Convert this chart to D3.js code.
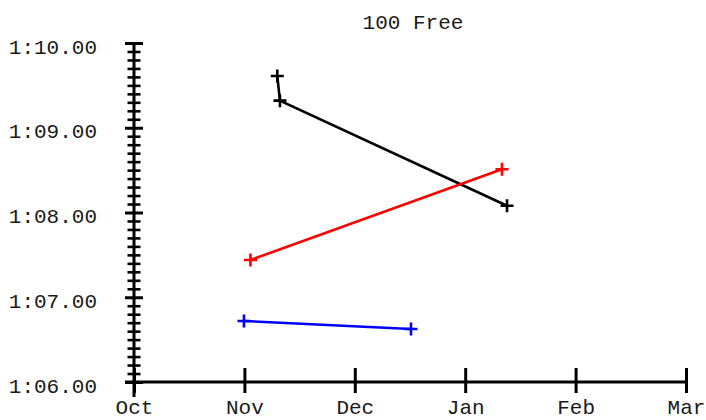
<!DOCTYPE html>
<html>
<head>
<meta charset="utf-8">
<script src="https://cdn.jsdelivr.net/npm/d3@7"></script>
<style>
html,body{margin:0;padding:0;background:#fff;}
svg{display:block;}
text{font-family:"Liberation Mono","Courier New",monospace;}
</style>
</head>
<body>
<svg id="chart" width="706" height="420"></svg>
<script>
// ---- data ----
const title = "100 Free";
const monthLabels = ["Oct", "Nov", "Dec", "Jan", "Feb", "Mar"];
const yTickValues = [66, 67, 68, 69, 70]; // seconds
// x values: months since Oct 1 (fractional), y values: seconds
const blackX = [1.298, 1.322, 3.379];
const blackY = [69.61, 69.32, 68.08];
const redX = [1.055, 3.333];
const redY = [67.44, 68.51];
const blueX = [0.996, 2.509];
const blueY = [66.72, 66.625];
const seriesColors = ["#000000", "#ff0000", "#0000ff"];

const series = [
  {x: blackX, y: blackY, color: seriesColors[0]},
  {x: redX, y: redY, color: seriesColors[1]},
  {x: blueX, y: blueY, color: seriesColors[2]}
];

// ---- layout ----
const svg = d3.select("#chart");
const mLeft = 134, mRight = 686, mTop = 43, mBottom = 382;
const x = d3.scaleLinear().domain([0, 5]).range([mLeft, mRight]);
const y = d3.scaleLinear().domain([66, 70]).range([mBottom, mTop]);

function fmtTime(v) {
  const m = Math.floor(v / 60);
  const s = v - m * 60;
  return m + ":" + (s < 10 ? "0" : "") + s.toFixed(2);
}

const fontSize = 21;
const textFill = "#1a1a1a";

// title
svg.append("text")
  .attr("x", (mLeft + mRight) / 2 + 3)
  .attr("y", 29)
  .attr("text-anchor", "middle")
  .attr("font-size", fontSize)
  .attr("fill", textFill)
  .text(title);

// y minor ticks
const minorVals = d3.range(660, 701).map(d => d / 10).filter(d => Math.abs(d - Math.round(d)) > 1e-6);
const yMinor = d3.axisLeft(y).tickValues(minorVals).tickSize(0).tickFormat("");
const gMinor = svg.append("g").attr("transform", `translate(${mLeft},0)`).call(yMinor);
gMinor.select(".domain").remove();
gMinor.selectAll(".tick line").attr("x1", -6.5).attr("x2", 6.5)
  .attr("stroke", "#000").attr("stroke-width", 2.6);

// y major axis
const yAxis = d3.axisLeft(y).tickValues(yTickValues).tickFormat(fmtTime).tickSize(0).tickPadding(36);
const gy = svg.append("g").attr("transform", `translate(${mLeft},0)`).call(yAxis);
gy.select(".domain").remove();
gy.selectAll(".tick line").attr("x1", -9).attr("x2", 9)
  .attr("stroke", "#000").attr("stroke-width", 3);
gy.selectAll(".tick text")
  .attr("font-size", fontSize)
  .attr("font-family", "Liberation Mono, Courier New, monospace")
  .attr("fill", textFill)
  .attr("dy", 10)
  .attr("x", -37);

// x axis
const xAxis = d3.axisBottom(x).tickValues(d3.range(monthLabels.length))
  .tickFormat(i => monthLabels[i]).tickSize(0).tickPadding(0);
const gx = svg.append("g").attr("transform", `translate(0,${mBottom})`).call(xAxis);
gx.select(".domain").remove();
gx.selectAll(".tick line").attr("y1", -14).attr("y2", 11)
  .attr("stroke", "#000").attr("stroke-width", 3);
gx.selectAll(".tick text")
  .attr("font-size", fontSize)
  .attr("font-family", "Liberation Mono, Courier New, monospace")
  .attr("fill", textFill)
  .attr("y", 32)
  .attr("dy", 0);

// axis lines
svg.append("line")
  .attr("x1", mLeft).attr("x2", mLeft)
  .attr("y1", mTop).attr("y2", mBottom + 15)
  .attr("stroke", "#000").attr("stroke-width", 3);
svg.append("line")
  .attr("x1", mLeft - 9).attr("x2", mRight)
  .attr("y1", mBottom).attr("y2", mBottom)
  .attr("stroke", "#000").attr("stroke-width", 3);

// series
const line = d3.line().x(d => x(d[0])).y(d => y(d[1]));
series.forEach(s => {
  const pts = s.x.map((xv, i) => [xv, s.y[i]]);
  svg.append("path")
    .datum(pts)
    .attr("d", line)
    .attr("fill", "none")
    .attr("stroke", s.color)
    .attr("stroke-width", 2.6);
  const g = svg.append("g");
  pts.forEach(p => {
    const cx = x(p[0]), cy = y(p[1]);
    g.append("path")
      .attr("d", `M${cx - 6.5},${cy}H${cx + 6.5}M${cx},${cy - 6.5}V${cy + 6.5}`)
      .attr("stroke", s.color)
      .attr("stroke-width", 2.6)
      .attr("fill", "none");
  });
});
</script>
</body>
</html>
